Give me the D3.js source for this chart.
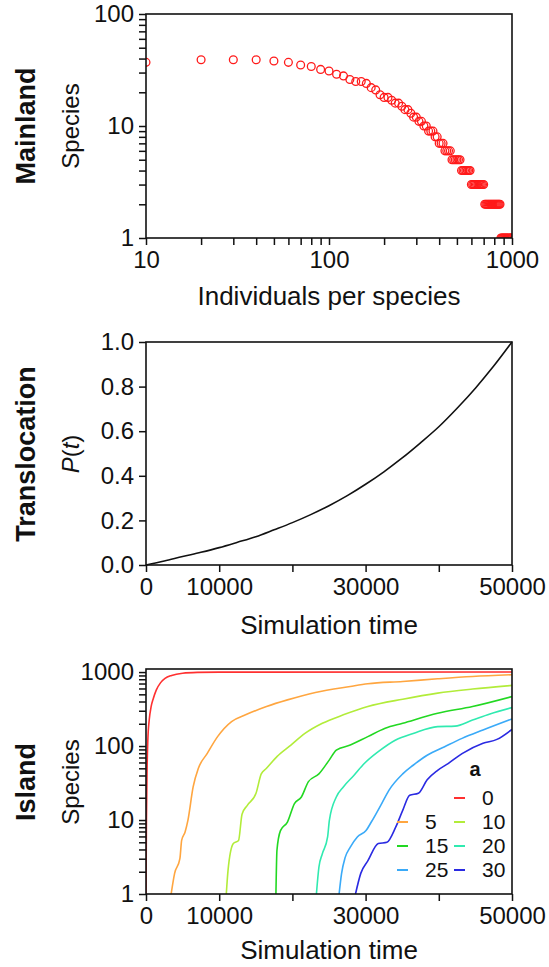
<!DOCTYPE html>
<html lang="en">
<head>
    <meta charset="UTF-8">
    <title>Mainland / Translocation / Island</title>
    <script src="https://d3js.org/d3.v7.min.js"></script>
    <style>
        body { margin: 0; background: #fff; }
        text { font-family: "Liberation Sans", Arial, Helvetica, sans-serif; fill: #111; }
    </style>
</head>
<body>
    <svg width="549" height="967"></svg>
    <script type="text/javascript">
        // ---- Mainland: species per abundance class
        var abundance = [10,20,30,40,50,60,70,80,90,100,
                         110,120,130,140,150,160,170,180,190,200,
                         210,220,230,240,250,260,270,280,290,300,
                         310,320,330,340,350,360,370,380,390,400,
                         410,420,430,440,450,460,470,480,490,500,
                         510,520,530,540,550,560,570,580,590,600,
                         610,620,630,640,650,660,670,680,690,700,
                         710,720,730,740,750,760,770,780,790,800,
                         810,820,830,840,850,860,870,880,890,900,
                         910,920,930,940,950,960,970,980,990,1000];
        var speciesCount = [37,39,39,39,38,37,35,34,32,31,
                            29,28,26,25,25,24,22,21,19,18,
                            18,17,16,16,15,14,14,13,12,12,
                            11,11,10,10,9,9,9,8,8,7,
                            7,7,6,6,6,6,5,5,5,5,
                            5,5,4,4,4,4,4,4,4,3,
                            3,3,3,3,3,3,3,3,3,3,
                            2,2,2,2,2,2,2,2,2,2,
                            2,2,2,2,2,2,1,1,1,1,
                            1,1,1,1,1,1,1,1,1,1];

        // ---- Translocation probability P(t)
        var simTime = [0,2500,5000,7500,10000,12500,15000,17500,20000,22500,25000,
                       27500,30000,32500,35000,37500,40000,42500,45000,47500,50000];
        var probT = [0,0.018,0.038,0.057,0.078,0.102,0.127,0.158,0.19,0.226,0.266,
                     0.311,0.362,0.418,0.48,0.548,0.62,0.703,0.793,0.892,1.0];

        var timeTicks = [0,10000,20000,30000,40000,50000];
        var timeLabels = [0,10000,30000,50000];
        var probTicks = [0,0.2,0.4,0.6,0.8,1.0];

        // ---- Island species richness over time, one series per a
        var aValues = [0,5,10,15,20,25,30];
        var aColors = ["#ff3030","#ffa640","#b2ec3a","#22d822","#30eab0","#3aaaf8","#2a2ae2"];
        var island0 = [[0,1],[60,10],[150,50],[250,120],[450,230],[700,340],[1000,440],[1400,570],
                       [2000,720],[2600,820],[3500,900],[5000,965],[7000,990],[10000,998],[50000,1000]];
        var island5 = [[3435,1],[3910,1.9],[4630,3],[4870,5.3],[5340,6.9],[5725,9.9],[6440,28],[7155,50],
                       [8350,79],[9780,134],[11690,214],[13600,264],[16460,342],[19320,421],[23140,530],
                       [27910,639],[30300,695],[35070,746],[39840,811],[44610,872],[50000,920]];
        var island10 = [[10970,1],[11210,2.1],[11930,4.8],[12645,5.3],[13120,12],[13840,15.8],[15030,23],
                        [15745,42],[16460,50],[17890,72],[19800,103],[21710,148],[24090,203],[26960,264],
                        [30300,342],[35070,430],[39840,519],[44610,589],[50000,660]];
        var island15 = [[17750,1],[17890,3.9],[18370,7.2],[19320,9.4],[20280,16.7],[21230,20.5],[22190,33],
                        [23620,42],[25050,65],[26000,88],[27910,103],[30300,134],[32680,174],[35070,203],
                        [39840,277],[44610,342],[50000,466]];
        var island20 = [[23280,1],[23620,2.3],[24090,3.5],[24810,5.9],[25050,9.9],[26000,20.5],[26960,28],
                        [28390,40],[29820,58],[31730,84],[34110,121],[36500,148],[39840,183],[42220,186],
                        [44610,225],[46990,272],[50000,331]];
        var island25 = [[26380,1],[26720,1.9],[27200,3.1],[27910,4.3],[28870,5.9],[30060,7.2],[30780,9.4],
                        [32200,16.7],[33160,25],[35070,42],[36500,55],[38410,75],[40800,98],[43180,127],
                        [46040,165],[50000,233]];
        var island30 = [[28620,1],[29340,1.9],[30300,2.8],[31730,4.8],[32920,5],[34110,8],[35070,13.5],
                        [36020,21.6],[37210,23],[38410,35],[39840,47],[41270,58],[43180,79],[46040,109],
                        [47940,123],[50000,168]];
        var islandSeries = [island0, island5, island10, island15, island20, island25, island30];

        var svg = d3.select("svg");
        var left = 146, right = 512;

        function isPow10(d) {
            var l = Math.log10(d);
            return Math.abs(l - Math.round(l)) < 1e-9;
        }

        function styleAxis(g) {
            g.select(".domain").remove();
            g.selectAll(".tick line").attr("stroke", "#111").attr("stroke-width", 1.5);
            g.selectAll(".tick text").attr("font-size", "24px")
             .attr("font-family", "'Liberation Sans', Arial, sans-serif").attr("fill", "#111");
        }

        function frame(top, bottom, id) {
            svg.append("clipPath").attr("id", id)
               .append("rect").attr("x", left).attr("y", top)
               .attr("width", right - left).attr("height", bottom - top);
            svg.append("rect")
               .attr("x", left).attr("y", top)
               .attr("width", right - left).attr("height", bottom - top)
               .attr("fill", "none").attr("stroke", "#111").attr("stroke-width", 1.6);
        }

        function labels(panel, ytitle, xtitle, cy, xty, italic) {
            svg.append("text")
               .attr("transform", "translate(26," + cy + ") rotate(-90)")
               .attr("text-anchor", "middle").attr("dy", "0.35em")
               .attr("font-size", "27px").attr("font-weight", "bold")
               .text(panel);
            var yt = svg.append("text")
               .attr("transform", "translate(71," + cy + ") rotate(-90)")
               .attr("text-anchor", "middle").attr("dy", "0.35em")
               .attr("font-size", "24px");
            if (italic) {
                yt.append("tspan").attr("font-style", "italic").text("P");
                yt.append("tspan").text("(");
                yt.append("tspan").attr("font-style", "italic").text("t");
                yt.append("tspan").text(")");
            } else {
                yt.text(ytitle);
            }
            svg.append("text")
               .attr("x", (left + right) / 2).attr("y", xty)
               .attr("text-anchor", "middle").attr("dy", "0.35em")
               .attr("font-size", "26px")
               .text(xtitle);
        }

        // ---------------- Panel 1: Mainland
        var t1 = 14, b1 = 238;
        var x1 = d3.scaleLog().domain([10, 1000]).range([left, right]);
        var y1 = d3.scaleLog().domain([1, 100]).range([b1, t1]);

        svg.append("g")
           .attr("clip-path", "url(#clip1)")
           .selectAll("circle")
           .data(abundance)
           .enter().append("circle")
           .attr("cx", function(d) { return x1(d); })
           .attr("cy", function(d, i) { return y1(speciesCount[i]); })
           .attr("r", 3.9)
           .attr("fill", "none")
           .attr("stroke", "#ff1a1a")
           .attr("stroke-width", 1.3);
        frame(t1, b1, "clip1");

        svg.append("g").attr("transform", "translate(0," + b1 + ")")
           .call(d3.axisBottom(x1).tickSize(7).tickPadding(6)
                 .tickFormat(function(d) { return isPow10(d) ? d : ""; }))
           .call(styleAxis);
        svg.append("g").attr("transform", "translate(" + left + ",0)")
           .call(d3.axisLeft(y1).tickSize(7).tickPadding(5)
                 .tickFormat(function(d) { return isPow10(d) ? d : ""; }))
           .call(styleAxis);
        labels("Mainland", "Species", "Individuals per species", 126, 296, false);

        // ---------------- Panel 2: Translocation
        var t2 = 342, b2 = 565;
        var x2 = d3.scaleLinear().domain([0, 50000]).range([left, right]);
        var y2 = d3.scaleLinear().domain([0, 1]).range([b2, t2]);

        svg.append("path")
           .datum(simTime)
           .attr("fill", "none").attr("stroke", "#111").attr("stroke-width", 1.6)
           .attr("d", d3.line()
                 .x(function(d) { return x2(d); })
                 .y(function(d, i) { return y2(probT[i]); })
                 .curve(d3.curveMonotoneX));
        frame(t2, b2, "clip2");

        svg.append("g").attr("transform", "translate(0," + b2 + ")")
           .call(d3.axisBottom(x2).tickValues(timeTicks).tickSize(7).tickPadding(6)
                 .tickFormat(function(d) { return timeLabels.indexOf(d) >= 0 ? d : ""; }))
           .call(styleAxis);
        svg.append("g").attr("transform", "translate(" + left + ",0)")
           .call(d3.axisLeft(y2).tickValues(probTicks).tickSize(7).tickPadding(5)
                 .tickFormat(d3.format(".1f")))
           .call(styleAxis);
        labels("Translocation", "P(t)", "Simulation time", 454, 625, true);

        // ---------------- Panel 3: Island
        var t3 = 669, b3 = 894;
        var x3 = d3.scaleLinear().domain([0, 50000]).range([left, right]);
        var y3 = d3.scaleLog().domain([1, 1100]).range([b3, t3]);

        var lineIsland = d3.line()
            .x(function(d) { return x3(d[0]); })
            .y(function(d) { return y3(d[1]); })
            .curve(d3.curveMonotoneX);

        svg.append("g").attr("clip-path", "url(#clip3)")
           .selectAll("path")
           .data(islandSeries)
           .enter().append("path")
           .attr("fill", "none")
           .attr("stroke", function(d, i) { return aColors[i]; })
           .attr("stroke-width", 1.6)
           .attr("stroke-linejoin", "round")
           .attr("d", lineIsland);
        frame(t3, b3, "clip3");

        svg.append("g").attr("transform", "translate(0," + b3 + ")")
           .call(d3.axisBottom(x3).tickValues(timeTicks).tickSize(7).tickPadding(6)
                 .tickFormat(function(d) { return timeLabels.indexOf(d) >= 0 ? d : ""; }))
           .call(styleAxis);
        svg.append("g").attr("transform", "translate(" + left + ",0)")
           .call(d3.axisLeft(y3).tickSize(7).tickPadding(5)
                 .tickFormat(function(d) { return isPow10(d) ? d : ""; }))
           .call(styleAxis);
        labels("Island", "Species", "Simulation time", 782, 950, false);

        // legend (two columns, "0" alone on top right)
        var legend = svg.append("g");
        legend.append("text")
              .attr("x", 475).attr("y", 769).attr("dy", "0.35em")
              .attr("text-anchor", "middle")
              .attr("font-size", "20px").attr("font-weight", "bold")
              .text("a");
        aValues.forEach(function(a, i) {
            var row = Math.floor((i + 1) / 2);
            var sx = (i % 2 === 0) ? 454 : 397;
            var ly = 798 + row * 24;
            legend.append("line")
                  .attr("x1", sx).attr("x2", sx + 11)
                  .attr("y1", ly).attr("y2", ly)
                  .attr("stroke", aColors[i]).attr("stroke-width", 2);
            legend.append("text")
                  .attr("x", sx + 28).attr("y", ly).attr("dy", "0.35em")
                  .attr("font-size", "21px")
                  .text(a);
        });
    </script>
</body>
</html>
